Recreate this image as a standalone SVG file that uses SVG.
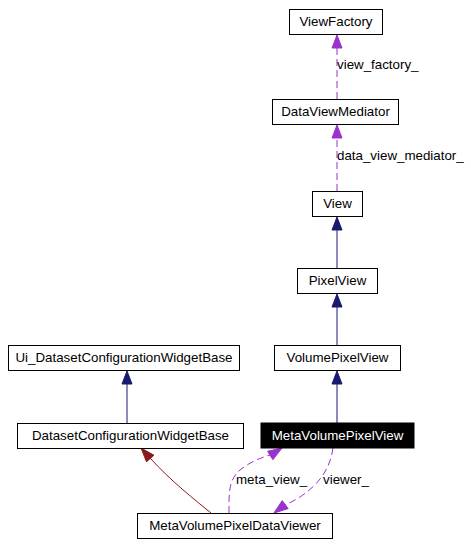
<svg xmlns="http://www.w3.org/2000/svg" width="471" height="546" viewBox="0 0 471 546">
<style>
.box{fill:#fff;stroke:#000;stroke-width:1}
.t{font-family:"Liberation Sans",Arial,sans-serif;font-size:13.33px;fill:#000;text-anchor:middle}
.lbl{font-family:"Liberation Sans",Arial,sans-serif;font-size:13.33px;fill:#000}
.inh{fill:none;stroke:#191970;stroke-width:1}
.inhA{fill:#191970;stroke:#191970}
.use{fill:none;stroke:#9a32cd;stroke-width:1;stroke-dasharray:7,4}
.useA{fill:#9a32cd;stroke:#9a32cd}
.red{fill:none;stroke:#8b1a1a;stroke-width:1}
.redA{fill:#8b1a1a;stroke:#8b1a1a}
</style>
<rect width="471" height="546" fill="#fff"/>
<g id="connectors">
  <path class="use" d="M337,99 L337,48"/>
  <polygon class="useA" points="337,35 332,48 342,48"/>
  <text class="lbl" x="337" y="69">view_factory_</text>
  <path class="use" d="M337,191 L337,138"/>
  <polygon class="useA" points="337,125 332,138 342,138"/>
  <text class="lbl" x="337" y="160">data_view_mediator_</text>
  <path class="inh" d="M337,268 L337,230"/>
  <polygon class="inhA" points="337,217 332,230 342,230"/>
  <path class="inh" d="M337,345 L337,307"/>
  <polygon class="inhA" points="337,294 332,307 342,307"/>
  <path class="inh" d="M337,423 L337,384"/>
  <polygon class="inhA" points="337,371 332,384 342,384"/>
  <path class="inh" d="M127,423 L127,384"/>
  <polygon class="inhA" points="127,371 122,384 132,384"/>
  <path class="red" d="M211,513 C195,500 172,482 150,458"/>
  <polygon class="redA" points="141,448 153.9,455.2 146.5,461.8"/>
  <path class="use" d="M229,513 C229,495 228,480 240,470 C250,462 260,458 270,455"/>
  <polygon class="useA" points="282,448 272.9,459.7 267.5,451.3"/>
  <text class="lbl" x="236" y="484">meta_view_</text>
  <path class="use" d="M333,448 C330,470 318,485 300,497 C295,500 290,503 285,505"/>
  <polygon class="useA" points="274,513 288.2,508.6 282.2,500.6"/>
  <text class="lbl" x="323" y="484">viewer_</text>
</g>
<g id="ViewFactory">
  <rect class="box" x="289.5" y="9.5" width="93" height="25"/>
  <text class="t" x="336" y="26">ViewFactory</text>
</g>
<g id="DataViewMediator">
  <rect class="box" x="272.5" y="99.5" width="126" height="25"/>
  <text class="t" x="335.5" y="116">DataViewMediator</text>
</g>
<g id="View">
  <rect class="box" x="312.5" y="191.5" width="50" height="25"/>
  <text class="t" x="337.5" y="208">View</text>
</g>
<g id="PixelView">
  <rect class="box" x="297.5" y="268.5" width="80" height="25"/>
  <text class="t" x="337.5" y="285">PixelView</text>
</g>
<g id="VolumePixelView">
  <rect class="box" x="274.5" y="345.5" width="126" height="25"/>
  <text class="t" x="337.5" y="362">VolumePixelView</text>
</g>
<g id="MetaVolumePixelView">
  <rect x="261" y="423" width="153" height="25" fill="#000" stroke="#000"/>
  <text class="t" x="337.5" y="440" style="fill:#fff">MetaVolumePixelView</text>
</g>
<g id="Ui_DatasetConfigurationWidgetBase">
  <rect class="box" x="8.5" y="345.5" width="231" height="25"/>
  <text class="t" x="124" y="362">Ui_DatasetConfigurationWidgetBase</text>
</g>
<g id="DatasetConfigurationWidgetBase">
  <rect class="box" x="17.5" y="423.5" width="226" height="25"/>
  <text class="t" x="130.5" y="440">DatasetConfigurationWidgetBase</text>
</g>
<g id="MetaVolumePixelDataViewer">
  <rect class="box" x="137.5" y="513.5" width="195" height="25"/>
  <text class="t" x="235" y="530">MetaVolumePixelDataViewer</text>
</g>
</svg>
